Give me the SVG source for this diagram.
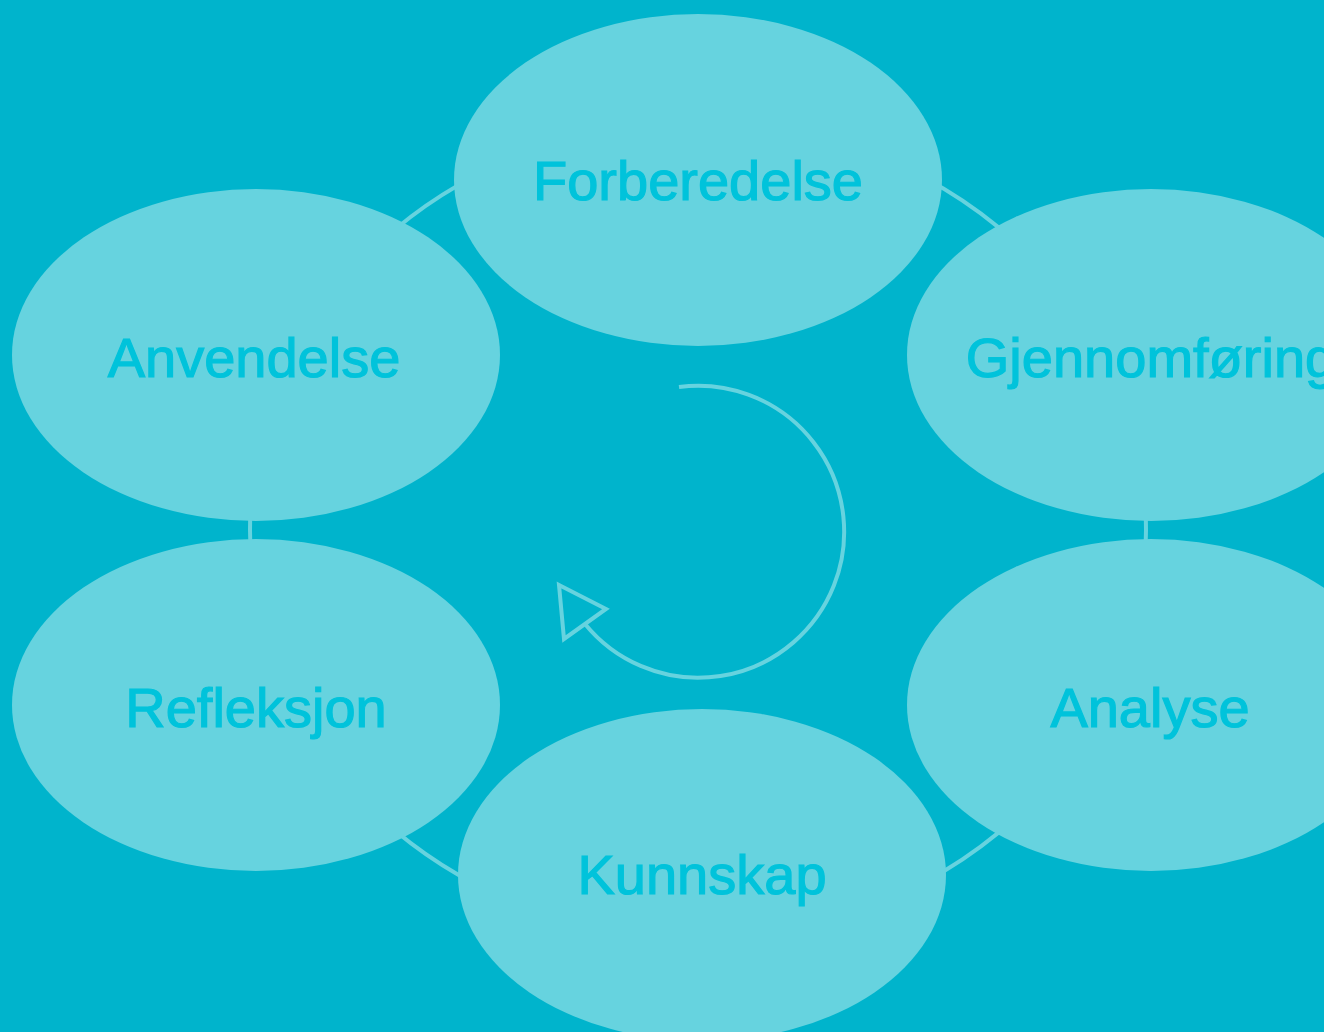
<svg xmlns="http://www.w3.org/2000/svg" width="1324" height="1032" viewBox="0 0 1324 1032">
<style>
.node{fill:#66D3DF}
.lbl{font-family:"Liberation Sans",Arial,sans-serif;font-size:56px;fill:#00C3DB;stroke:#00C3DB;stroke-width:1.2;text-anchor:middle}
.conn{fill:none;stroke:#66D3DF;stroke-width:4}
</style>
<rect width="1324" height="1032" fill="#00B4CC"/>
<g id="connectors">
<ellipse class="conn" cx="698" cy="530" rx="448" ry="408"/>
<path class="conn" d="M679,387 A146,146 0 1 1 585,624"/>
<polygon class="conn" points="559,585 606,609 564,639" fill="#00B4CC"/>
</g>
<g id="forberedelse"><ellipse class="node" cx="698" cy="180" rx="244" ry="166"/><text class="lbl" x="698" y="200">Forberedelse</text></g>
<g id="anvendelse"><ellipse class="node" cx="256" cy="355" rx="244" ry="166"/><text class="lbl" x="254" y="377">Anvendelse</text></g>
<g id="gjennomforing"><ellipse class="node" cx="1151" cy="355" rx="244" ry="166"/><text class="lbl" x="1151" y="377">Gjennomføring</text></g>
<g id="refleksjon"><ellipse class="node" cx="256" cy="705" rx="244" ry="166"/><text class="lbl" x="256" y="727">Refleksjon</text></g>
<g id="analyse"><ellipse class="node" cx="1151" cy="705" rx="244" ry="166"/><text class="lbl" x="1150" y="727">Analyse</text></g>
<g id="kunnskap"><ellipse class="node" cx="702" cy="875" rx="244" ry="166"/><text class="lbl" x="702" y="894">Kunnskap</text></g>
</svg>
